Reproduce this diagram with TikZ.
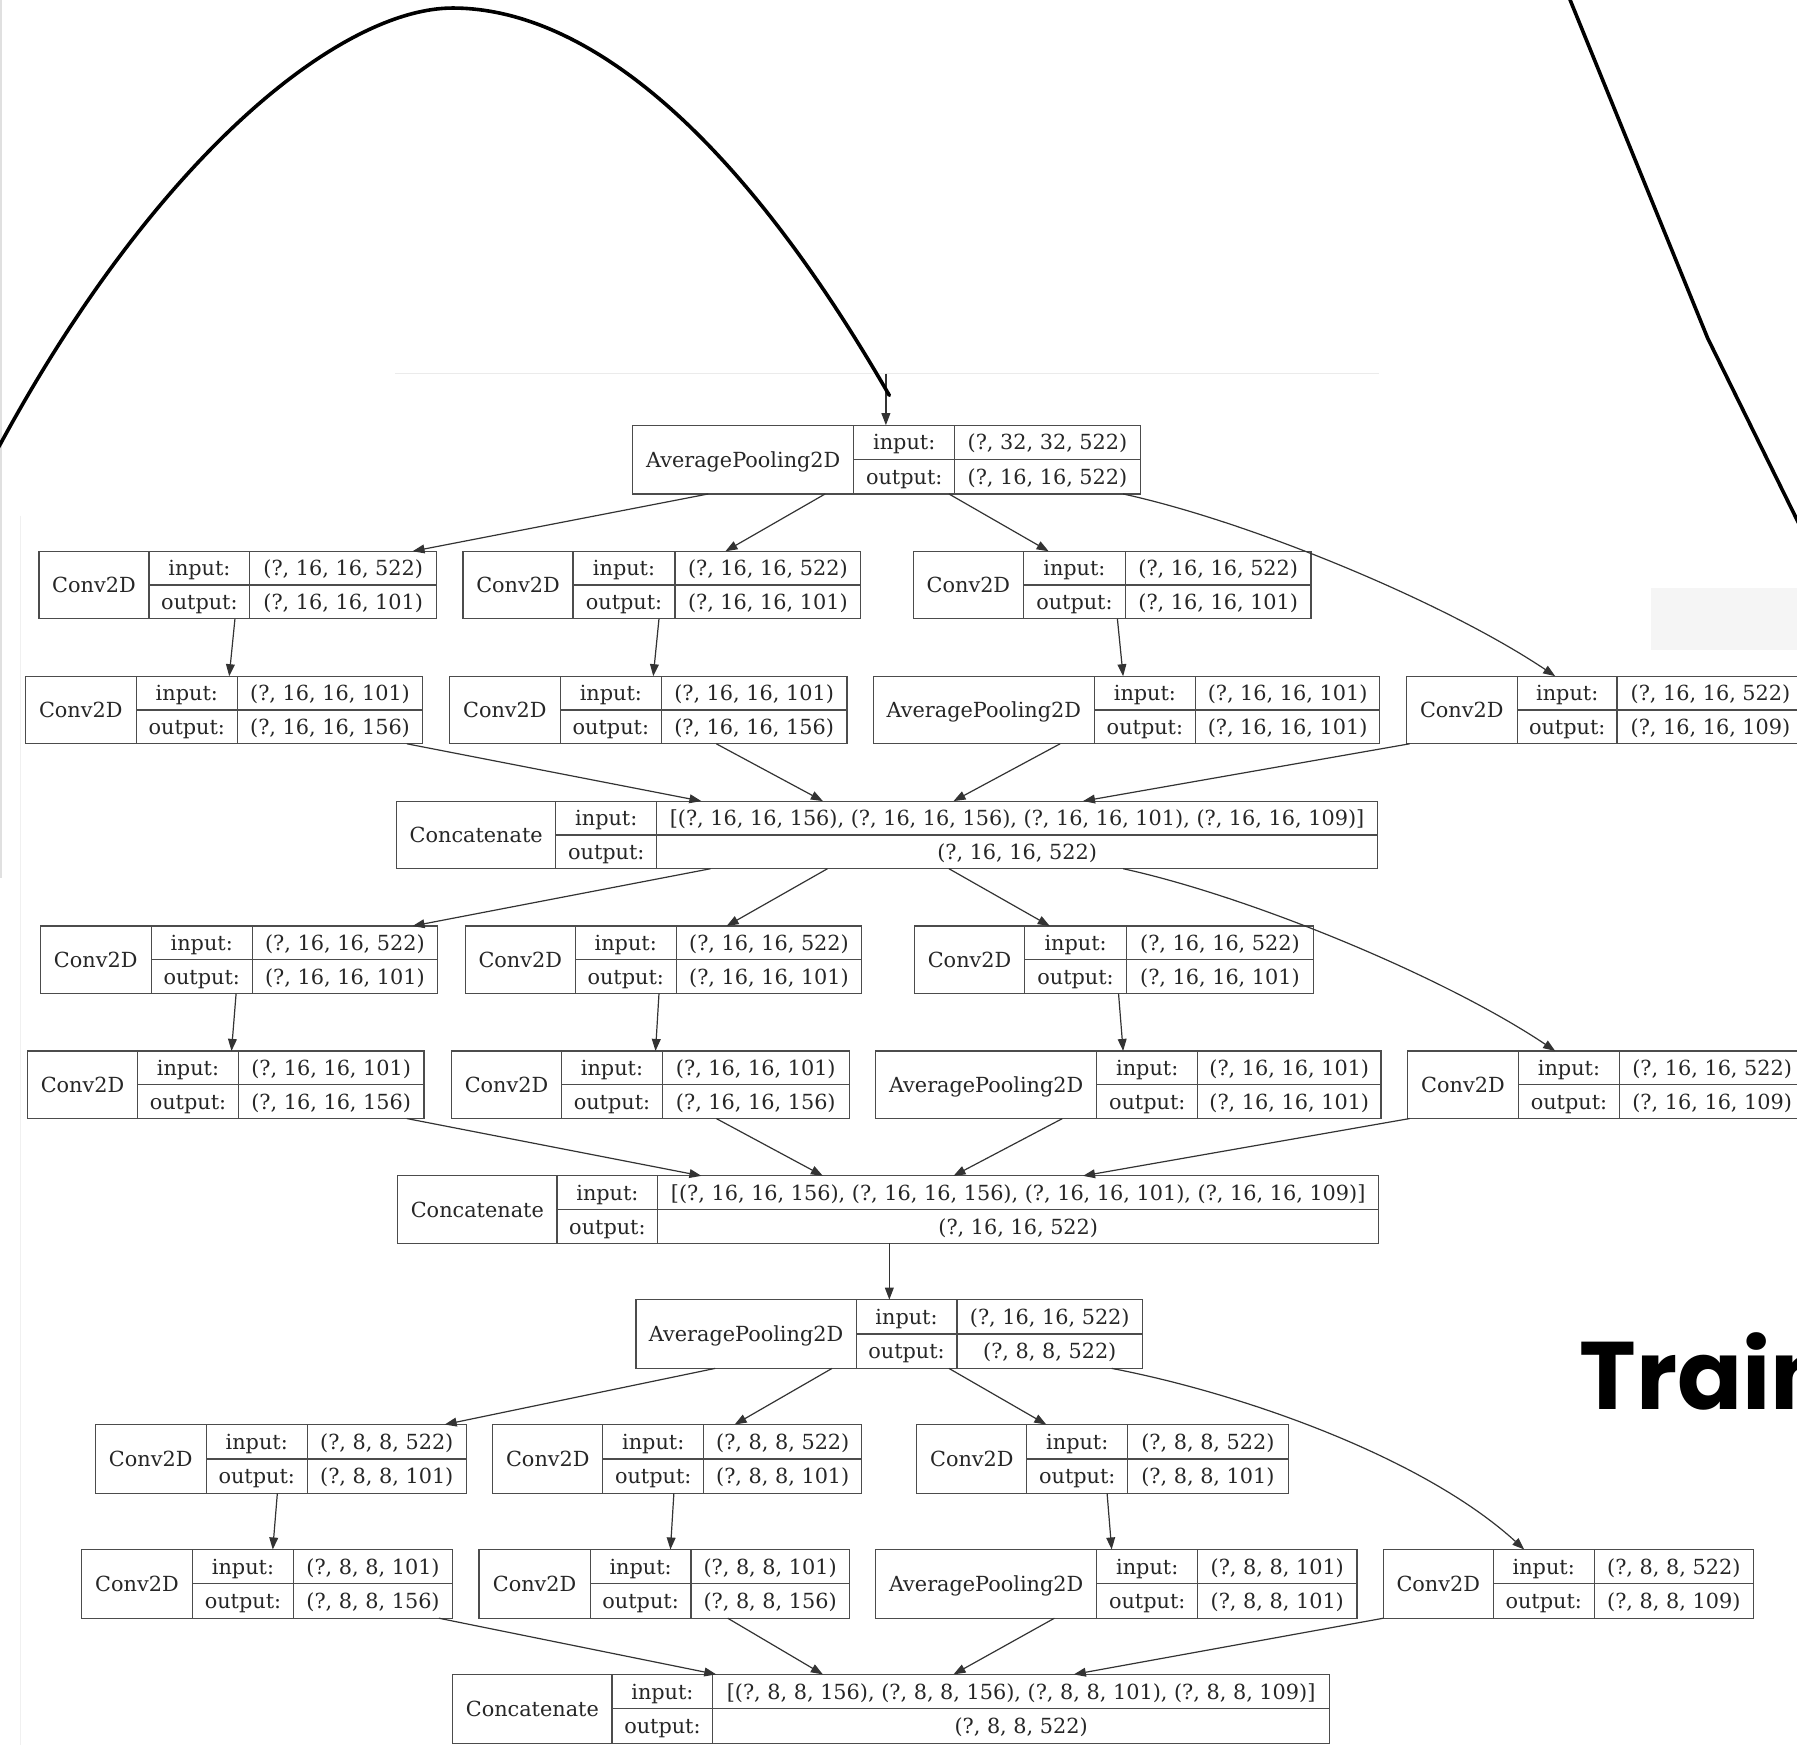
\documentclass[tikz,border=0pt]{standalone}
\usepackage{fontspec}
\setmainfont{DejaVu Serif}
\newfontfamily\trainfont{Poppins}
\usetikzlibrary{arrows.meta,fit,calc}

\tikzset{
  lbox/.style={draw=black!70, line width=0.6pt, inner sep=0pt, outer sep=0pt, rectangle},
  sepline/.style={draw=black!70, line width=0.6pt},
  txt/.style={inner sep=0pt, text=black!85, text height=8pt, text depth=0.4pt,
              font=\fontsize{10.4}{12}\selectfont},
  arr/.style={draw=black!80, line width=0.6pt, -{Triangle[length=6pt,width=4.4pt]}},
  bigcurve/.style={draw=black, line width=1.8pt, line cap=round, line join=round},
  faint/.style={draw=black!8, line width=0.8pt},
}

% name, (x1,y1), (x2,y2), divider1, divider2, label, input, output
\newcommand\layerbox[8]{%
  \node[lbox, fit={(#2) (#3)}] (#1) {};
  \draw[sepline] (#1.north -| #4,0) -- (#1.south -| #4,0);
  \draw[sepline] (#1.north -| #5,0) -- (#1.south -| #5,0);
  \draw[sepline] (#1.center -| #4,0) -- (#1.east);
  \node[txt] (#1-l) at ($(#1.west)!0.5!(#1.center -| #4,0)$) {#6};
  \node[txt] (#1-i) at ($(#1.north -| #4,0)!0.5!(#1.center -| #5,0)$) {input:};
  \node[txt] (#1-iv) at ($(#1.north -| #5,0)!0.5!(#1.east)$) {#7};
  \node[txt] (#1-o) at ($(#1.center -| #4,0)!0.5!(#1.south -| #5,0)$) {output:};
  \node[txt] (#1-ov) at ($(#1.center -| #5,0)!0.5!(#1.south east)$) {#8};
}
\newcommand\conn[4]{\draw[arr] (#1.south -| #2,0) -- (#3.north -| #4,0);}

\begin{document}
\begin{tikzpicture}[x=0.5731pt, y=-0.5731pt]
\useasboundingbox (0,0) rectangle (1568,1523);
\clip (0,0) rectangle (1568,1523);
\fill[white] (0,0) rectangle (1568,1523);

% faint screenshot remnants
\draw[draw=black!12, line width=0.8pt] (1,0) -- (1,766);
\draw[draw=black!6, line width=0.8pt] (18,450) -- (18,1523);
\draw[faint] (345,326) -- (1203,326);
\fill[black!4] (1441,513) rectangle (1568,567);

% ---------- block 1 ----------
\layerbox{A}{552,371}{995,431}{745}{833}{AveragePooling2D}{(?, 32, 32, 522)}{(?, 16, 16, 522)}

\layerbox{B1}{34,481}{381,540}{130}{218}{Conv2D}{(?, 16, 16, 522)}{(?, 16, 16, 101)}
\layerbox{B2}{404,481}{751,540}{500}{589}{Conv2D}{(?, 16, 16, 522)}{(?, 16, 16, 101)}
\layerbox{B3}{797,481}{1144,540}{893}{982}{Conv2D}{(?, 16, 16, 522)}{(?, 16, 16, 101)}

\layerbox{C1}{22,590}{369,649}{119}{207}{Conv2D}{(?, 16, 16, 101)}{(?, 16, 16, 156)}
\layerbox{C2}{392,590}{739,649}{489}{577}{Conv2D}{(?, 16, 16, 101)}{(?, 16, 16, 156)}
\layerbox{C3}{762,590}{1204,649}{955}{1043}{AveragePooling2D}{(?, 16, 16, 101)}{(?, 16, 16, 101)}
\layerbox{C4}{1227,590}{1574,649}{1324}{1411}{Conv2D}{(?, 16, 16, 522)}{(?, 16, 16, 109)}

\layerbox{D}{346,699}{1202,758}{485}{573}{Concatenate}{[(?, 16, 16, 156), (?, 16, 16, 156), (?, 16, 16, 101), (?, 16, 16, 109)]}{(?, 16, 16, 522)}

% ---------- block 2 ----------
\layerbox{E1}{35,808}{382,867}{132}{220}{Conv2D}{(?, 16, 16, 522)}{(?, 16, 16, 101)}
\layerbox{E2}{406,808}{752,867}{502}{590}{Conv2D}{(?, 16, 16, 522)}{(?, 16, 16, 101)}
\layerbox{E3}{798,808}{1146,867}{894}{983}{Conv2D}{(?, 16, 16, 522)}{(?, 16, 16, 101)}

\layerbox{F1}{24,917}{370,976}{120}{208}{Conv2D}{(?, 16, 16, 101)}{(?, 16, 16, 156)}
\layerbox{F2}{394,917}{741,976}{490}{578}{Conv2D}{(?, 16, 16, 101)}{(?, 16, 16, 156)}
\layerbox{F3}{764,917}{1205,976}{957}{1045}{AveragePooling2D}{(?, 16, 16, 101)}{(?, 16, 16, 101)}
\layerbox{F4}{1228,917}{1575,976}{1325}{1413}{Conv2D}{(?, 16, 16, 522)}{(?, 16, 16, 109)}

\layerbox{G}{347,1026}{1203,1085}{486}{574}{Concatenate}{[(?, 16, 16, 156), (?, 16, 16, 156), (?, 16, 16, 101), (?, 16, 16, 109)]}{(?, 16, 16, 522)}

% ---------- block 3 ----------
\layerbox{H}{555,1134}{997,1194}{747}{835}{AveragePooling2D}{(?, 16, 16, 522)}{(?, 8, 8, 522)}

\layerbox{I1}{83,1243}{407,1303}{180}{268}{Conv2D}{(?, 8, 8, 522)}{(?, 8, 8, 101)}
\layerbox{I2}{430,1243}{752,1303}{526}{614}{Conv2D}{(?, 8, 8, 522)}{(?, 8, 8, 101)}
\layerbox{I3}{800,1243}{1124,1303}{896}{984}{Conv2D}{(?, 8, 8, 522)}{(?, 8, 8, 101)}

\layerbox{J1}{71,1352}{395,1412}{168}{256}{Conv2D}{(?, 8, 8, 101)}{(?, 8, 8, 156)}
\layerbox{J2}{418,1352}{741,1412}{515}{603}{Conv2D}{(?, 8, 8, 101)}{(?, 8, 8, 156)}
\layerbox{J3}{764,1352}{1184,1412}{957}{1045}{AveragePooling2D}{(?, 8, 8, 101)}{(?, 8, 8, 101)}
\layerbox{J4}{1207,1352}{1530,1412}{1303}{1391}{Conv2D}{(?, 8, 8, 522)}{(?, 8, 8, 109)}

\layerbox{K}{395,1461}{1160,1521}{534}{622}{Concatenate}{[(?, 8, 8, 156), (?, 8, 8, 156), (?, 8, 8, 101), (?, 8, 8, 109)]}{(?, 8, 8, 522)}

% ---------- connectors ----------
\coordinate (top) at (773,326);
\draw[arr] (top) -- (A.north -| top);

\conn{A}{618}{B1}{360}
\conn{A}{720}{B2}{633}
\conn{A}{828}{B3}{915}
\draw[arr] (A.south -| 980,0) .. controls (1090,455) and (1260,525) .. (C4.north -| 1357,0);
\conn{B1}{205}{C1}{200}
\conn{B2}{575}{C2}{570}
\conn{B3}{975}{C3}{980}
\conn{C1}{355}{D}{612}
\conn{C2}{625}{D}{718}
\conn{C3}{925}{D}{832}
\conn{C4}{1230}{D}{945}

\conn{D}{620}{E1}{360}
\conn{D}{722}{E2}{634}
\conn{D}{828}{E3}{916}
\draw[arr] (D.south -| 980,0) .. controls (1090,782) and (1260,852) .. (F4.north -| 1357,0);
\conn{E1}{206}{F1}{202}
\conn{E2}{575}{F2}{572}
\conn{E3}{976}{F3}{980}
\conn{F1}{355}{G}{612}
\conn{F2}{625}{G}{718}
\conn{F3}{927}{G}{832}
\conn{F4}{1230}{G}{945}

\conn{G}{776}{H}{776}

\conn{H}{624}{I1}{388}
\conn{H}{726}{I2}{641}
\conn{H}{828}{I3}{913}
\draw[arr] (H.south -| 970,0) .. controls (1080,1215) and (1240,1270) .. (J4.north -| 1330,0);
\conn{I1}{242}{J1}{238}
\conn{I2}{588}{J2}{585}
\conn{I3}{966}{J3}{970}
\conn{J1}{383}{K}{625}
\conn{J2}{635}{K}{718}
\conn{J3}{920}{K}{832}
\conn{J4}{1207}{K}{937}

% ---------- overlay strokes ----------
\draw[bigcurve] (-20,423) -- (0,388) .. controls (140,130) and (300,7) .. (395,7)
  .. controls (490,7) and (624,81) .. (776,345);
\draw[bigcurve] (1368,-5) -- (1490,295) -- (1580,478);

\node[anchor=base west, inner sep=0pt, font=\trainfont\bfseries\fontsize{48}{48}\selectfont] (train) at (1378,1230) {Train};
\end{tikzpicture}
\end{document}
